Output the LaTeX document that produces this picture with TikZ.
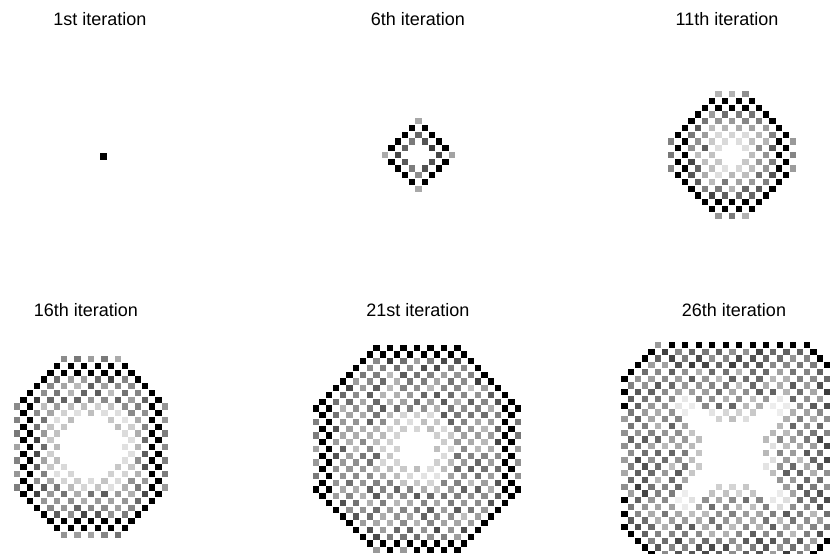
\documentclass[tikz,border=0pt]{standalone}
\usepackage{fontspec}
\setmainfont{Liberation Sans}
\newcommand\CAcell{%
  \pgfmathtruncatemacro\dx{\pAX-\ai}%
  \pgfmathtruncatemacro\dy{\pAY-\aj}%
  \pgfmathtruncatemacro\dd{\pB-\ai-\aj}%
  \pgfmathtruncatemacro\md{min(\dx,\dy,\dd)}%
  \pgfmathsetmacro\rr{sqrt(\ai*\ai+\aj*\aj)}%
  \pgfmathtruncatemacro\tone{25+40*rnd}%
  \ifnum\md<4 \pgfmathtruncatemacro\tone{\tone+12}\fi
  \ifdim\rr pt<\pHb pt \pgfmathtruncatemacro\tone{\tone*0.45}\fi
  \ifdim\rr pt<\pHa pt \def\tone{0}\fi
  \ifnum\pX=1
    \pgfmathtruncatemacro\xd{abs(\ai-\aj)}%
    \ifnum\xd<3
      \ifdim\rr pt<12pt \pgfmathtruncatemacro\tone{\tone*0.25}\fi
      \ifdim\rr pt<8pt \def\tone{0}\fi
    \fi
  \fi
  \ifnum\dd=0 \def\tone{100}\fi
  \ifnum\dx>0 \ifnum\dx<\numexpr\pWLR+1\relax \def\tone{100}\fi\fi
  \ifnum\dy>0 \ifnum\dy<\numexpr\pWTB+1\relax \def\tone{100}\fi\fi
  \ifnum\dx=0
    \ifnum\dd>\pLRc \pgfmathtruncatemacro\tone{30+25*rnd}\else\def\tone{100}\fi
  \fi
  \ifnum\dy=0
    \ifnum\pTBk=1
      \pgfmathtruncatemacro\tone{rnd<0.25 ? 40 : 100}%
    \else
      \ifnum\dd>\pTBc \pgfmathtruncatemacro\tone{30+25*rnd}\else\def\tone{100}\fi
    \fi
  \fi
  \ifnum\tone>0
    \pgfmathsetmacro\px{\pCX+\i*6.75}%
    \pgfmathsetmacro\py{\pCY+\j*6.75}%
    \fill[black!\tone] (\px-3.2,\py-3.2) rectangle ++(6.4,6.4);
  \fi
}
\newcommand\DrawCA{%
  \pgfmathtruncatemacro\nax{-\pAX}%
  \pgfmathtruncatemacro\nay{-\pAY}%
  \foreach \i in {\nax,...,\pAX}{%
    \foreach \j in {\nay,...,\pAY}{%
      \pgfmathtruncatemacro\ai{abs(\i)}%
      \pgfmathtruncatemacro\aj{abs(\j)}%
      \pgfmathtruncatemacro\ins{(\ai+\aj<=\pB) && (mod(\ai+\aj+\pB,2)==0)}%
      \ifnum\ins=1 \CAcell\fi
    }%
  }%
}
\begin{document}
\begin{tikzpicture}[x=1pt,y=-1pt,
  lbl/.style={font=\fontsize{18}{20}\selectfont, anchor=base, inner sep=0pt}]
\useasboundingbox (0,0) rectangle (831,554);
\clip (0,0) rectangle (831,554);
\fill[white] (0,0) rectangle (831,554);
\pgfmathsetseed{7}
% labels
\node[lbl] (l1) at (100,25) {1st iteration};
\node[lbl] (l6) at (418,25) {6th iteration};
\node[lbl] (l11) at (727,25) {11th iteration};
\node[lbl] (l16) at (86,316) {16th iteration};
\node[lbl] (l21) at (418,316) {21st iteration};
\node[lbl] (l26) at (734,316) {26th iteration};
% 1st iteration
\fill[black] (99.5,152.5) rectangle ++(7,7);
% 6th
\begin{scope}
\def\pCX{418.5}\def\pCY{155}\def\pAX{5}\def\pAY{5}\def\pB{5}
\def\pWLR{1}\def\pWTB{1}\def\pLRc{-1}\def\pTBc{-1}\def\pTBk{0}
\def\pHa{2}\def\pHb{2}\def\pX{0}
\DrawCA
\end{scope}
% 11th
\begin{scope}
\def\pCX{732}\def\pCY{155}\def\pAX{9}\def\pAY{9}\def\pB{11}
\def\pWLR{2}\def\pWTB{2}\def\pLRc{-1}\def\pTBc{-1}\def\pTBk{0}
\def\pHa{1.5}\def\pHb{4}\def\pX{0}
\DrawCA
\end{scope}
% 16th
\begin{scope}
\def\pCX{91}\def\pCY{447}\def\pAX{11}\def\pAY{13}\def\pB{17}
\def\pWLR{2}\def\pWTB{2}\def\pLRc{-1}\def\pTBc{-1}\def\pTBk{0}
\def\pHa{4.5}\def\pHb{7}\def\pX{0}
\DrawCA
\end{scope}
% 21st
\begin{scope}
\def\pCX{417}\def\pCY{449}\def\pAX{15}\def\pAY{15}\def\pB{21}
\def\pWLR{2}\def\pWTB{1}\def\pLRc{1}\def\pTBc{99}\def\pTBk{1}
\def\pHa{2.5}\def\pHb{6}\def\pX{0}
\DrawCA
\end{scope}
% 26th
\begin{scope}
\def\pCX{732.5}\def\pCY{453}\def\pAX{16}\def\pAY{16}\def\pB{27}
\def\pWLR{0}\def\pWTB{0}\def\pLRc{5}\def\pTBc{99}\def\pTBk{1}
\def\pHa{4.5}\def\pHb{7}\def\pX{1}
\DrawCA
\end{scope}
\end{tikzpicture}
\end{document}
